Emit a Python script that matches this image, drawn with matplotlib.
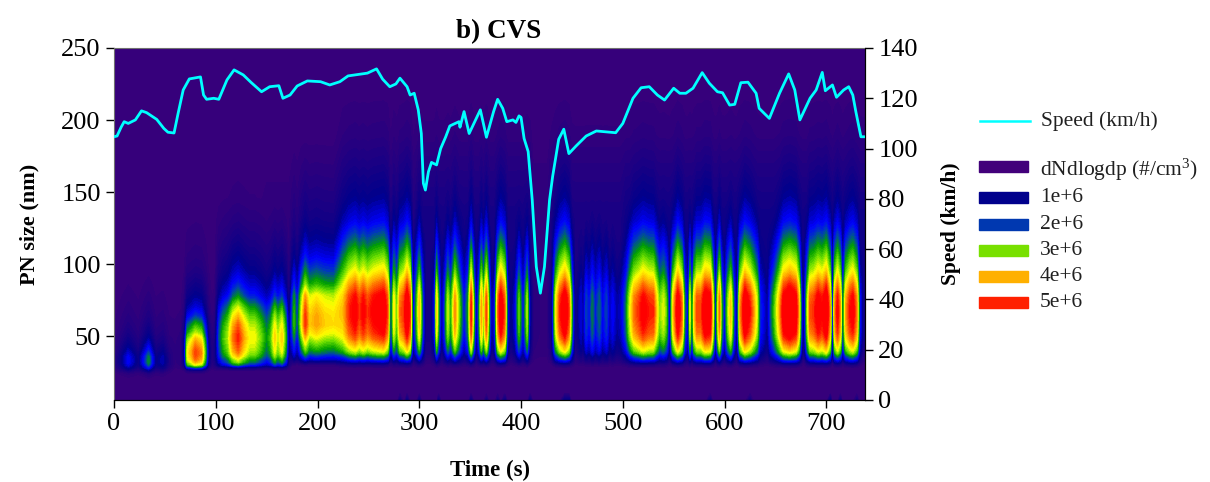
import numpy as np
import matplotlib
matplotlib.use('Agg')
import matplotlib.pyplot as plt
from matplotlib.colors import LinearSegmentedColormap
from matplotlib.lines import Line2D
from matplotlib.patches import Rectangle

plt.rcParams['font.family'] = ['Liberation Serif', 'DejaVu Serif']
plt.rcParams['mathtext.fontset'] = 'custom'
plt.rcParams['mathtext.rm'] = 'Liberation Serif'
plt.rcParams['mathtext.default'] = 'regular'

# speed trace
speed_t = [0, 3, 7, 10, 14, 21, 27, 32, 42, 49, 53, 59, 63, 68, 74, 85, 88, 91, 98, 103,
           111, 118, 127, 135, 145, 153, 162, 166, 173, 180, 190, 203, 212, 222, 230, 249, 258, 264, 271, 277,
           281, 288, 291, 295, 299, 302, 304, 306, 309, 312, 317, 321, 326, 330, 339, 340, 344, 349, 360, 366,
           373, 377, 382, 386, 392, 395, 398, 400, 403, 407, 411, 415, 419, 423, 428, 431, 437, 442, 447, 454,
           464, 474, 493, 500, 510, 518, 526, 534, 541, 550, 556, 562, 569, 578, 585, 593, 598, 605, 610, 616,
           623, 631, 634, 644, 654, 663, 669, 674, 684, 690, 696, 699, 706, 710, 717, 722, 726, 729, 734, 738]
speed_v = [104.7, 105, 108.5, 110.7, 110, 111.4, 115, 114.3, 111.6, 108, 106.5, 106.2, 114, 123.3, 127.7, 128.5, 121.3, 119.6, 120, 119.6,
           127.3, 131.3, 129.3, 126.2, 122.6, 124.6, 125, 120, 121.3, 124.9, 126.9, 126.6, 125.3, 126.6, 128.9, 130, 131.7, 127.6, 124.6, 125.7,
           128, 124.6, 121.3, 122, 115.4, 106, 86.2, 83.5, 90.8, 94.5, 93.5, 100, 104.7, 109, 110.7, 108.5, 114.7, 106, 115.4, 104.5,
           114.7, 119.6, 116, 110.7, 111.4, 110.4, 113, 112.4, 104, 98.8, 79.5, 53, 42.5, 53, 79.5, 88.8, 103.7, 107.7, 98, 101,
           105, 107, 106.3, 110, 120, 124.2, 124.6, 121.3, 119.3, 124, 122, 122, 124, 130.2, 126, 122.6, 122.2, 117.3, 117.6, 126.2,
           126.4, 122, 116, 112, 122, 129.7, 123.3, 111.4, 120, 123.3, 130.3, 123, 125.3, 120.4, 123.3, 124.6, 121.3, 114.7, 104.7, 104.7]

# time columns of the contour and the strongest dN/dlogDp in each one (in 1e6 /cm3)
col_t = [0, 6, 14, 24, 34, 41, 48, 54, 60, 66, 69, 72, 76, 80, 86, 90, 93, 96, 99, 103,
         107, 112, 117, 122, 128, 133, 138, 144, 150, 154, 158, 161, 165, 169, 172, 175, 177, 180, 184, 188,
         192, 199, 207, 216, 225, 231, 237, 241, 245, 249, 255, 265, 269, 272, 275, 278, 281, 285, 288, 291,
         294, 297, 300, 303, 306, 311, 315, 317, 319, 322, 325, 328, 331, 335, 339, 344, 348, 351, 354, 356,
         359, 361, 363, 366, 369, 371, 374, 377, 380, 384, 387, 390, 394, 398, 402, 406, 409, 412, 418, 426,
         430, 434, 438, 443, 447, 450, 453, 456, 459, 461, 464, 467, 470, 473, 477, 480, 484, 487, 490, 494,
         498, 503, 507, 511, 516, 520, 525, 530, 533, 536, 540, 543, 546, 549, 554, 558, 561, 564, 566, 568,
         570, 573, 577, 581, 586, 589, 591, 593, 595, 597, 600, 603, 606, 609, 612, 615, 620, 625, 629, 632,
         635, 638, 642, 645, 649, 654, 658, 664, 670, 673, 676, 678, 681, 684, 688, 692, 696, 700, 704, 706,
         708, 711, 714, 716, 719, 723, 726, 730, 733, 736, 738]
col_peak = [.3, .8, 1.6, .8, 2.4, .9, 1.2, .5, .2, .3, 1, 3.5, 4, 4.6, 4.2, 2.6, 1, .4, .6, 2,
            2.7, 3.2, 4.3, 4.8, 4, 3.5, 3.5, 3, 2.4, 2.8, 3.8, 3.2, 3.8, 2.6, .9, 2, 2.7, 1.8, 3.4, 4.7,
            3.8, 4.1, 3.8, 3.7, 3.9, 4.7, 5.1, 4.6, 5, 4.6, 5, 5.3, 4.5, 1.6, 3.6, 2.8, 4.3, 4.7, 5.4, 4.6,
            1.3, 2.5, 3.9, 2.2, .6, .5, 1.5, 3.8, 2.5, .9, 2, 3.3, 2.5, 4.2, 3, 1.6, 2.5, 4.8, 2.5, 1,
            2.5, 4.1, 3, 4.6, 2.3, 1, 1.5, 4.2, 5.3, 4.5, 1.5, .8, 1.4, 2.9, 1.5, 3.2, 1, .3, .1, .2,
            .8, 3.5, 4.7, 5.4, 4.6, 2.5, .7, 1, 1.4, 1, 2, 1.6, 2.3, 1.7, 2.2, 1.5, 2, 1.2, 1.6, 1.1,
            1.3, 2.2, 3.4, 4.3, 4.7, 5.1, 4.8, 4.7, 3.8, 3, 3.4, 2.8, 1.3, 3.6, 5.3, 4.4, 2.2, 1.4, 3.4, 1.8,
            3.7, 4.6, 4.6, 5.4, 5.2, 3.2, 1.4, 3, 4.4, 2.6, 1.5, 3, 3.9, 2.2, .9, 4, 5.4, 4.8, 4, 3.3,
            1.8, 1.5, 1, 2, 2.8, 4, 5.2, 5.6, 5.2, 4, 1.5, .6, 3, 4.5, 4.7, 5.2, 4.9, 5.5, 4, 1,
            4, 5, 4, 1.8, 4, 4.8, 5.1, 4.2, 1.7, .8, .6]

# vertical shape of the plume, relative to the column's peak
size_nm = [5, 11, 20, 24, 26, 28, 30, 32, 34, 36, 38, 40, 44, 48, 52, 58, 64, 70, 78, 86, 95,
           105, 115, 130, 146, 170, 190, 220, 250]
shape_first = [0, 0, .02, .15, .4, .7, .9, 1, 1, .95, .85, .75, .6, .47, .37, .27, .2, .15, .1, .06, .03,
               .01, 0, 0, 0, 0, 0, 0, 0]
shape_early = [0, 0, 0, .02, .12, .45, .75, .88, .95, .98, 1, .99, .93, .85, .72, .58, .42, .31, .22, .16, .1,
               .06, .04, .02, .01, 0, 0, 0, 0]
shape_growth = [0, 0, 0, 0, .02, .2, .5, .65, .72, .82, .88, .92, .96, 1, .98, .92, .82, .7, .5, .38, .28,
                .21, .15, .08, .03, .01, 0, 0, 0]
shape_mid = [0, 0, 0, 0, 0, 0, .05, .2, .35, .45, .55, .62, .72, .82, .92, 1, .99, .95, .87, .66, .52,
             .38, .28, .18, .12, .05, 0, 0, 0]
shape_late = [0, 0, 0, 0, 0, .02, .1, .25, .38, .48, .6, .68, .78, .87, .93, .97, 1, 1, .96, .85, .7,
              .58, .46, .3, .2, .11, .05, .01, 0]
shape_start = [0, 60, 100, 175, 225]

# faint navy veil that stays between the stripes
haze_start = [0, 60, 120, 150, 180, 220, 260, 300, 412, 430, 500]
haze_level = [0, .05, .1, .15, .2, .3, .45, .7, .2, .6, .8]
haze_shape = [0, 0, 0, 0, 0, 0, 0, .1, .3, .5, .6, .7, .8, .9, 1, 1, 1, 1, 1, 1, 1,
              1, 1, .95, .8, .5, .2, 0, 0]

# little navy ticks along the bottom edge
blip_t = [281, 288, 300, 319, 351, 366, 377, 384, 409, 443, 447, 586, 625, 704, 714, 730]
blip_level = [.7, .9, .8, .9, .9, .7, .7, .9, .9, 1, 1, .8, .7, 1, .9, .7]

col_list = ['#38007a', '#00008c', '#0000ff', '#0040b0', '#00a000', '#70e000', '#ffff00', '#ffb000', '#ff0000']
col_pos = [0, 1, 1.6, 2, 2.5, 3, 3.5, 4, 4.9]

legend_labels = ['dNdlogdp (#/cm$^{3}$)', '1e+6', '2e+6', '3e+6', '4e+6', '5e+6']
legend_colors = ['#42007a', '#00008c', '#0038b0', '#78e000', '#ffb000', '#ff2000']
legend_y = [166, 197, 224.5, 250.5, 276.5, 302.5]

shapes = np.array([shape_first, shape_early, shape_growth, shape_mid, shape_late])
field = np.zeros((len(size_nm), len(col_t)))
for j in range(len(col_t)):
    s = shapes[np.searchsorted(shape_start, col_t[j], side='right') - 1]
    h = haze_level[np.searchsorted(haze_start, col_t[j], side='right') - 1]
    field[:, j] = np.maximum(col_peak[j] * s, h * np.array(haze_shape))
for t, v in zip(blip_t, blip_level):
    field[0, col_t.index(t)] = v

cmap = LinearSegmentedColormap.from_list('cvs', [(p / 4.9, c) for p, c in zip(col_pos, col_list)], N=256)
cmap.set_over('#ff0000')

W, H = 1210, 482
fig = plt.figure(figsize=(W / 100, H / 100), dpi=100)
ax = fig.add_axes([114 / W, 1 - 400 / H, (865 - 114) / W, (400 - 48) / H])
ax.contourf(col_t, size_nm, field, levels=np.linspace(0, 4.9, 50), cmap=cmap, extend='max', antialiased=False)
ax.set_xlim(0, 738)
ax.set_ylim(5.6, 250)
ax.set_xticks(range(0, 701, 100))
ax.set_yticks([50, 100, 150, 200, 250])
ax.tick_params(labelsize=19, length=6, width=1)
ax.set_xlabel('Time (s)', fontsize=16.5, fontweight='bold', labelpad=18)
ax.set_ylabel('PN size (nm)', fontsize=16, fontweight='bold', labelpad=16)
ax.set_title('b) CVS', fontsize=19.5, fontweight='bold', pad=7, x=0.512)
ax.spines['left'].set_color('#707070')
ax.spines['top'].set_color('#707070')

ax2 = ax.twinx()
ax2.plot(speed_t, speed_v, color='#00ffff', lw=2)
ax2.set_ylim(0, 140)
ax2.set_yticks(range(0, 141, 20))
ax2.tick_params(labelsize=19, length=6, width=1)
ax2.set_ylabel('Speed (km/h)', fontsize=15.5, fontweight='bold', labelpad=17)
ax2.spines['left'].set_visible(False)
ax2.spines['top'].set_visible(False)

# legend is laid out by hand, it sits outside the axes
fig.add_artist(Line2D([980 / W, 1030 / W], [1 - 121 / H, 1 - 121 / H], color='#00ffff', lw=1.8))
fig.text(1041 / W, 1 - 121 / H, 'Speed (km/h)', fontsize=15.5, va='center', color='#202020')
for lab, c, y in zip(legend_labels, legend_colors, legend_y):
    fig.add_artist(Rectangle((979 / W, 1 - (y + 5.5) / H), 49 / W, 11 / H, color=c, transform=fig.transFigure))
    fig.text(1040 / W, 1 - (y + (4 if y == 166 else 0)) / H, lab, fontsize=15.5, va='center', color='#202020')

fig.savefig('out.png', dpi=100)
